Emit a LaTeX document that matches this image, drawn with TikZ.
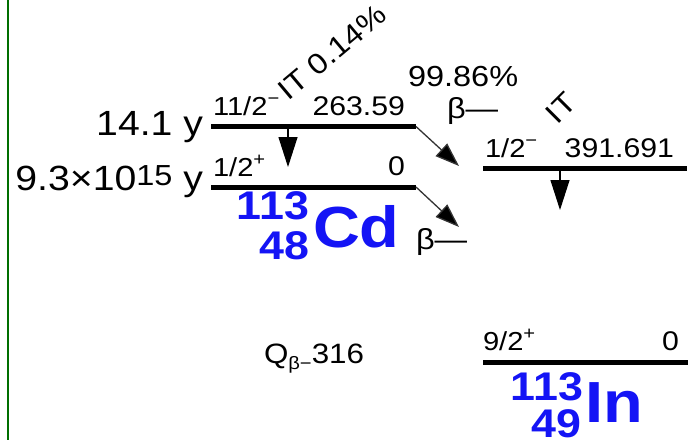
\documentclass[tikz,border=0pt]{standalone}
\usepackage{fontspec}
\setmainfont{Liberation Sans}[FakeStretch=1.12]
\usetikzlibrary{arrows.meta}
\newcommand\fsz[1]{\fontsize{#1}{#1}\selectfont}
\newcommand\supm[1]{\raisebox{0.40em}{\fsz{18}#1}}
\definecolor{nucblue}{RGB}{20,20,245}
\definecolor{frame}{RGB}{0,110,0}
\begin{document}
\begin{tikzpicture}[x=1pt,y=-1pt,
  every node/.style={inner sep=0pt,outer sep=0pt},
  lvl/.style={line width=5pt},
  gam/.style={line width=1.2pt,-{Triangle[length=30pt,width=19pt]}},
  bet/.style={line width=1.3pt,draw=black!80,-{Triangle[length=24pt,width=17pt,fill=black]}},
  spin/.style={font=\fsz{26}},
  ener/.style={font=\fsz{27}},
  half/.style={font=\fsz{35}},
  mode/.style={font=\fsz{29}},
  nucbig/.style={font=\fsz{58}\bfseries,text=nucblue},
  nucnum/.style={font=\fsz{40}\bfseries,text=nucblue}]
\useasboundingbox (0,0) rectangle (688,440);
\fill[white] (0,0) rectangle (688,440);
% frame line
\coordinate (ft) at (8,0);
\coordinate (fb) at (8,440);
\draw[frame,line width=2pt] (ft) -- (fb);
% levels
\coordinate (cdmL) at (211,126.5); \coordinate (cdmR) at (416,126.5);
\coordinate (cdgL) at (211,187);   \coordinate (cdgR) at (416,187);
\coordinate (inmL) at (483,168.5); \coordinate (inmR) at (687,168.5);
\coordinate (ingL) at (483,362);   \coordinate (ingR) at (688,362);
\draw[lvl] (cdmL) -- (cdmR);
\draw[lvl] (cdgL) -- (cdgR);
\draw[lvl] (inmL) -- (inmR);
\draw[lvl] (ingL) -- (ingR);
% half-lives
\node[half,anchor=base east] (hl1) at (203,135) {14.1 y};
\node[half,anchor=base east] (hl2) at (203,190) {9.3×10\raisebox{5pt}{\fsz{29}15} y};
% spins and energies
\node[spin,anchor=base west] (s1) at (213,115) {11/2\supm{−}};
\node[ener,anchor=base east] (e1) at (405,115) {263.59};
\node[spin,anchor=base west] (s2) at (213,176) {1/2\supm{+}};
\node[ener,anchor=base east] (e2) at (405,175) {0};
\node[spin,anchor=base west] (s3) at (485,157) {1/2\supm{−}};
\node[ener,anchor=base east] (e3) at (674,157) {391.691};
\node[spin,anchor=base west] (s4) at (483,350) {9/2\supm{+}};
\node[ener,anchor=base east] (e4) at (679,350) {0};
% gamma / IT arrows
\coordinate (g1s) at (288,129); \coordinate (g1e) at (288,167);
\draw[gam] (g1s) -- (g1e);
\coordinate (g2s) at (560,171); \coordinate (g2e) at (560,210);
\draw[gam] (g2s) -- (g2e);
% beta arrows
\coordinate (b1e) at (459,166);
\coordinate (b2e) at (459,227);
\draw[bet] (cdmR) -- (b1e);
\draw[bet] (cdgR) -- (b2e);
% decay mode labels
\node[mode,rotate=40] (it1) at (332,52) {IT 0.14\%};
\node[mode,anchor=base west] (br) at (408,86) {99.86\%};
\node[mode,anchor=base west] (bm1) at (447,118) {β—};
\node[mode,rotate=45] (it2) at (561,108) {IT};
\node[mode,anchor=base west] (bm2) at (416,249) {β—};
\node[font=\fsz{28},anchor=base west] (q) at (264,363) {Q\raisebox{-6pt}{\fsz{18}β−}316};
% nuclide labels
\node[nucbig,anchor=base west] (cd) at (313,247) {Cd};
\node[nucnum,anchor=base east] (cdA) at (309,219) {113};
\node[nucnum,anchor=base east] (cdZ) at (309,259) {48};
\node[nucbig,anchor=base west] (in) at (585,422) {In};
\node[nucnum,anchor=base east] (inA) at (583,400) {113};
\node[nucnum,anchor=base east] (inZ) at (581,437) {49};
\end{tikzpicture}
\end{document}
